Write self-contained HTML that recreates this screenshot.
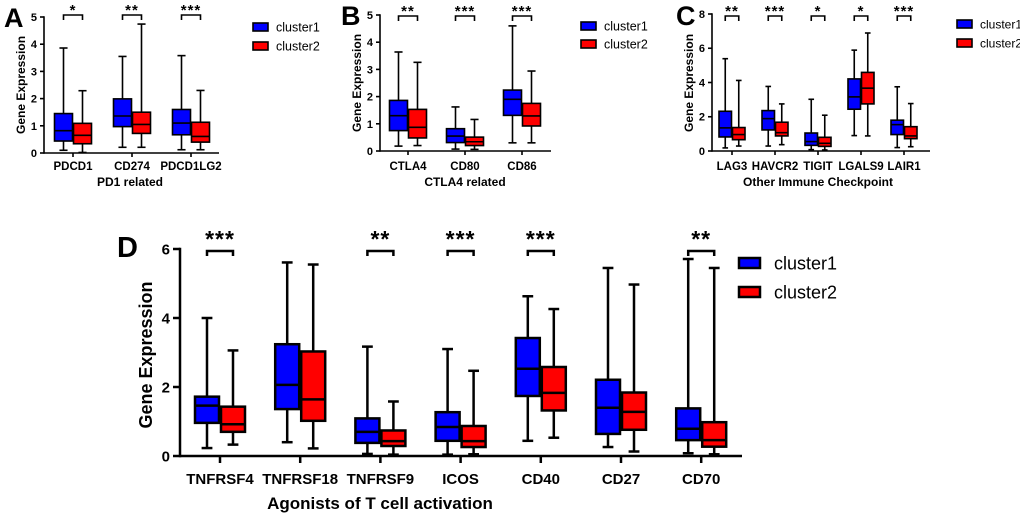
<!DOCTYPE html>
<html><head><meta charset="utf-8">
<style>
html,body{margin:0;padding:0;background:#fff;}
svg{display:block;font-family:"Liberation Sans",Arial,sans-serif;}
</style></head>
<body>
<svg id="fig" width="1020" height="518" viewBox="0 0 1020 518" xmlns="http://www.w3.org/2000/svg"></svg>
<script>
// ---- Panel A data ----
const catsA = ["PDCD1","CD274","PDCD1LG2"];
const c1A = [[0.10,0.44,0.82,1.45,3.86],[0.21,0.97,1.36,1.99,3.55],[0.12,0.67,1.10,1.60,3.58]];
const c2A = [[0.02,0.34,0.65,1.09,2.29],[0.21,0.72,1.05,1.50,4.74],[0.12,0.40,0.61,1.13,2.30]];
const sigA = ["*","**","***"];
const ticksA = [0,1,2,3,4,5];
// ---- Panel B data ----
const catsB = ["CTLA4","CD80","CD86"];
const c1B = [[0.18,0.75,1.30,1.86,3.64],[0.07,0.31,0.55,0.82,1.62],[0.30,1.31,1.90,2.24,4.60]];
const c2B = [[0.20,0.48,0.87,1.53,3.26],[0.06,0.20,0.34,0.51,1.16],[0.30,0.92,1.29,1.75,2.94]];
const sigB = ["**","***","***"];
const ticksB = [0,1,2,3,4,5];
// ---- Panel C data ----
const catsC = ["LAG3","HAVCR2","TIGIT","LGALS9","LAIR1"];
const c1C = [[0.18,0.82,1.35,2.32,5.39],[0.29,1.23,1.89,2.36,3.77],[0.08,0.33,0.55,1.05,3.02],[0.90,2.44,3.16,4.21,5.89],[0.20,0.96,1.54,1.80,3.75]];
const c2C = [[0.29,0.66,0.96,1.37,4.12],[0.37,0.88,1.07,1.68,2.75],[0.06,0.27,0.45,0.80,2.09],[0.88,2.75,3.67,4.59,6.89],[0.25,0.72,0.88,1.42,2.77]];
const sigC = ["**","***","*","*","***"];
const ticksC = [0,2,4,6,8];
// ---- Panel D data ----
const catsD = ["TNFRSF4","TNFRSF18","TNFRSF9","ICOS","CD40","CD27","CD70"];
const c1D = [[0.23,0.96,1.46,1.72,4.00],[0.40,1.36,2.06,3.24,5.61],[0.06,0.38,0.70,1.09,3.17],[0.04,0.44,0.84,1.27,3.10],[0.44,1.74,2.53,3.42,4.63],[0.26,0.64,1.40,2.21,5.45],[0.08,0.46,0.79,1.38,5.71]];
const c2D = [[0.33,0.70,0.92,1.43,3.06],[0.22,1.02,1.64,3.03,5.55],[0.04,0.29,0.43,0.74,1.58],[0.05,0.26,0.43,0.87,2.47],[0.53,1.32,1.83,2.58,4.26],[0.13,0.76,1.28,1.84,4.97],[0.05,0.27,0.46,0.98,5.45]];
const sigD = ["***","","**","***","***","","**"];
const ticksD = [0,2,4,6];

const svg = document.getElementById('fig');
const NS = "http://www.w3.org/2000/svg";
function mk(tag, attrs, parent){
  const e = document.createElementNS(NS, tag);
  for (const k in attrs) e.setAttribute(k, attrs[k]);
  (parent||svg).appendChild(e);
  return e;
}

function panel(cfg){
  const g = mk('g', {});
  
  
  const ymax = cfg.ticks[cfg.ticks.length-1];
  const Y = v => cfg.y0 - (cfg.y0 - cfg.yTop) * v / ymax;
  const X = i => cfg.cx0 + i * cfg.step;
  const lw = cfg.lw;
  const L = mk('text', {x:cfg.letter[0], y:cfg.letter[1], 'font-size':cfg.letterSize, 'font-weight':'bold', fill:'#000'}, g);
  L.textContent = cfg.id;
  
  
  const ya = mk('line', {x1:cfg.ax, y1:cfg.yTop-lw/2, x2:cfg.ax, y2:cfg.y0+lw/2, stroke:'#000','stroke-width':lw}, g);
  
  
  const xa = mk('line', {x1:cfg.ax, y1:cfg.y0, x2:cfg.axEnd, y2:cfg.y0, stroke:'#000','stroke-width':lw}, g);
  
  
  cfg.ticks.forEach(t => {
    mk('line', {x1:cfg.ax-cfg.tick, y1:Y(t), x2:cfg.ax, y2:Y(t), stroke:'#000','stroke-width':lw}, g);
    const tl = mk('text', {x:cfg.ax-cfg.tick-3, y:Y(t)+cfg.tickFs*0.36, 'text-anchor':'end','font-size':cfg.tickFs,'font-weight':'bold'}, g);
    tl.textContent = t;
    
    
  });
  const yt = mk('text', {x:0, y:0, transform:`translate(${cfg.yTitle[0]},${cfg.yTitle[1]}) rotate(-90)`, 'text-anchor':'middle','font-size':cfg.yTitleFs,'font-weight':'bold'}, g);
  yt.textContent = 'Gene Expression';
  
  
  const xt = mk('text', {x:cfg.xTitle[0], y:cfg.xTitle[1], 'text-anchor':'middle','font-size':cfg.xTitleFs,'font-weight':'bold'}, g);
  xt.textContent = cfg.xTitleText;
  
  
  const bw = cfg.bw, off = bw/2 + cfg.gap/2;
  cfg.cats.forEach((c, i) => {
    const cx = X(i);
    mk('line', {x1:cx, y1:cfg.y0, x2:cx, y2:cfg.y0+cfg.tick, stroke:'#000','stroke-width':lw}, g);
    const cl = mk('text', {x:cx, y:cfg.catY, 'text-anchor':'middle','font-size':cfg.catFs,'font-weight':'bold'}, g);
    cl.textContent = c;
    
    
    [[cfg.c1[i], '#0000ff', cx-off, 'cluster1'], [cfg.c2[i], '#ff0000', cx+off, 'cluster2']].forEach(([d, col, bx, nm]) => {
      const bg = mk('g', {}, g);
      
      
      const cw = bw*0.45;
      mk('line', {x1:bx, y1:Y(d[4]), x2:bx, y2:Y(d[0]), stroke:'#000','stroke-width':lw}, bg);
      mk('line', {x1:bx-cw/2, y1:Y(d[4]), x2:bx+cw/2, y2:Y(d[4]), stroke:'#000','stroke-width':lw}, bg);
      mk('line', {x1:bx-cw/2, y1:Y(d[0]), x2:bx+cw/2, y2:Y(d[0]), stroke:'#000','stroke-width':lw}, bg);
      mk('rect', {x:bx-bw/2, y:Y(d[3]), width:bw, height:Y(d[1])-Y(d[3]), fill:col, stroke:'#000','stroke-width':lw}, bg);
      mk('line', {x1:bx-bw/2, y1:Y(d[2]), x2:bx+bw/2, y2:Y(d[2]), stroke:'#000','stroke-width':lw}, bg);
    });
    if (cfg.sig[i]) {
      const sg = mk('g', {}, g);
      
      
      mk('polyline', {points:`${cx-off},${cfg.brY+cfg.brH} ${cx-off},${cfg.brY} ${cx+off},${cfg.brY} ${cx+off},${cfg.brY+cfg.brH}`, fill:'none', stroke:'#000','stroke-width':lw}, sg);
      const st = mk('text', {x:cx, y:cfg.starY, 'text-anchor':'middle','font-size':cfg.starFs,'font-weight':'bold','letter-spacing':'1'}, sg);
      st.textContent = cfg.sig[i];
    }
  });
  [['cluster1','#0000ff'],['cluster2','#ff0000']].forEach(([n, col], k) => {
    const lg = mk('g', {}, g);
    
    
    const ly = cfg.leg[1] + k*cfg.legDy;
    mk('rect', {x:cfg.leg[0], y:ly, width:cfg.legW, height:cfg.legH, fill:col, stroke:'#000','stroke-width':lw}, lg);
    const lt = mk('text', {x:cfg.leg[0]+cfg.legW+cfg.legGap, y:ly+cfg.legH/2+cfg.legFs*0.36, 'font-size':cfg.legFs}, lg);
    lt.textContent = n;
  });
}

const small = {lw:1.6, tick:4, tickFs:11, yTitleFs:12, xTitleFs:12, catFs:11.5, catY:170, letterSize:27, starFs:15, brH:5, legW:15, legH:8, legFs:12.5, legGap:8};
panel(Object.assign({}, small, {id:'A', cats:catsA, c1:c1A, c2:c2A, sig:sigA, ticks:ticksA,
  ax:44, axEnd:219, y0:153, yTop:17, cx0:73, step:59, bw:18, gap:1,
  letter:[4,27], yTitle:[25,85], xTitle:[130,186], xTitleText:'PD1 related',
  brY:15, starY:15, leg:[253,23], legDy:19}));
panel(Object.assign({}, small, {id:'B', cats:catsB, c1:c1B, c2:c2B, sig:sigB, ticks:ticksB,
  ax:380, axEnd:551, y0:151, yTop:15, cx0:408, step:57, bw:18, gap:1,
  letter:[341,25], yTitle:[361,83], xTitle:[465,186], xTitleText:'CTLA4 related',
  brY:16, starY:16, leg:[581,22], legDy:18}));
panel(Object.assign({}, small, {id:'C', cats:catsC, c1:c1C, c2:c2C, sig:sigC, ticks:ticksC,
  ax:712, axEnd:930, y0:151, yTop:14, cx0:732, step:43, bw:12.5, gap:1,
  letter:[676,25], yTitle:[693,83], xTitle:[818,186], xTitleText:'Other Immune Checkpoint',
  brY:16, starY:16, leg:[957,20], legDy:19, legFs:12}));
panel({id:'D', cats:catsD, c1:c1D, c2:c2D, sig:sigD, ticks:ticksD,
  lw:2.5, tick:7, tickFs:15, yTitleFs:18, xTitleFs:17, catFs:15, catY:484, letterSize:29, starFs:23,
  ax:180, axEnd:742, y0:456, yTop:249, cx0:220, step:80.2, bw:24, gap:2,
  letter:[117,257], yTitle:[152,355], xTitle:[380,509], xTitleText:'Agonists of T cell activation',
  brY:251, brH:5, starY:247, leg:[739,258], legDy:29, legW:21, legH:10, legFs:18, legGap:14});
</script>
</body></html>
